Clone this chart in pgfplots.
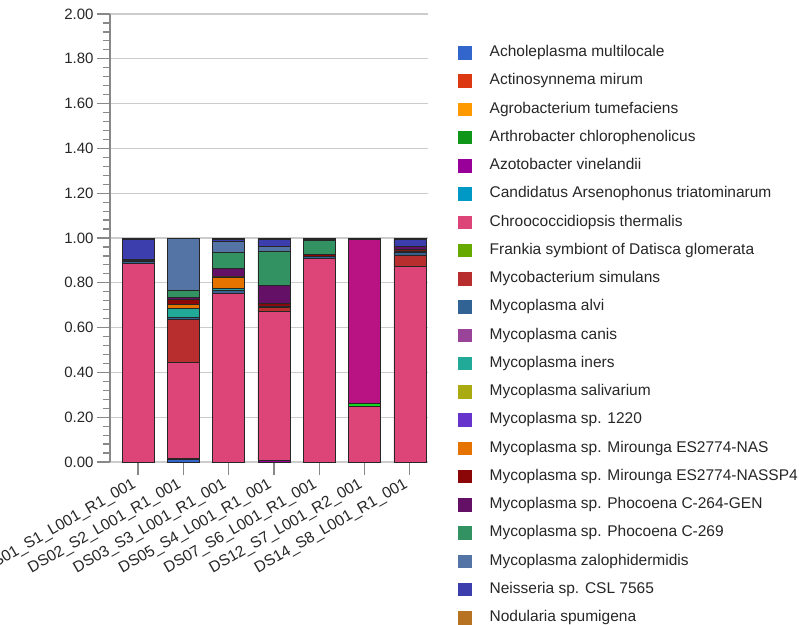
\documentclass[border=0pt]{standalone}
\usepackage{pgfplots}
\usepackage{pgfplotstable}
\pgfplotsset{compat=1.18}
\usepackage{fontspec}
\setmainfont{Liberation Sans}
\definecolor{c1}{HTML}{3366CC}
\definecolor{c2}{HTML}{DC3912}
\definecolor{c3}{HTML}{FF9900}
\definecolor{c4}{HTML}{109618}
\definecolor{c5}{HTML}{990099}
\definecolor{c6}{HTML}{0099C6}
\definecolor{c7}{HTML}{DD4477}
\definecolor{c8}{HTML}{66AA00}
\definecolor{c9}{HTML}{B82E2E}
\definecolor{c10}{HTML}{316395}
\definecolor{c11}{HTML}{994499}
\definecolor{c12}{HTML}{22AA99}
\definecolor{c13}{HTML}{AAAA11}
\definecolor{c14}{HTML}{6633CC}
\definecolor{c15}{HTML}{E67300}
\definecolor{c16}{HTML}{8B0707}
\definecolor{c17}{HTML}{651067}
\definecolor{c18}{HTML}{329262}
\definecolor{c19}{HTML}{5574A6}
\definecolor{c20}{HTML}{3B3EAC}
\definecolor{c21}{HTML}{B77322}
\definecolor{c22}{HTML}{16D620}
\definecolor{c23}{HTML}{B91383}
\definecolor{c24}{HTML}{F4359E}
\definecolor{gridc}{HTML}{CCCCCC}
\definecolor{axc}{HTML}{888888}

\pgfplotstableread{
x c1 c2 c3 c4 c5 c6 c7 c8 c9 c10 c11 c12 c13 c14 c15 c16 c17 c18 c19 c20 c21 c22 c23 c24
0 0 0 0 0 0 0 0.888 0 0 0.006 0 0 0 0 0 0.006 0.006 0 0 0.09 0 0 0 0.004
1 0.01 0 0 0.006 0 0 0.43 0 0.19 0.01 0 0.04 0 0 0.018 0.022 0.008 0.032 0.232 0 0 0 0 0.002
2 0 0 0 0 0 0 0.755 0 0 0.013 0 0.008 0 0 0.05 0.004 0.035 0.07 0.05 0.008 0 0 0 0.007
3 0 0 0 0 0.008 0 0.663 0 0.018 0.008 0 0 0 0 0 0.01 0.08 0.155 0.022 0.03 0 0 0 0.006
4 0 0 0 0 0 0 0.91 0 0 0.008 0 0 0 0 0 0.008 0 0.062 0 0.006 0 0 0 0.006
5 0 0 0 0 0 0 0.25 0 0 0 0 0 0 0 0 0 0 0 0 0 0 0.014 0.732 0.004
6 0 0 0 0 0 0 0.875 0 0.05 0.012 0 0.005 0 0 0 0.008 0.012 0 0 0.033 0 0 0 0.005
}\datatable

\begin{document}
\begin{tikzpicture}
\begin{axis}[
  at={(0pt,0pt)}, anchor=south west,
  scale only axis, width=318pt, height=448pt,
  ybar stacked, bar width=32pt,
  xmin=-0.62, xmax=6.4, ymin=0, ymax=2,
  xtick={0,1,2,3,4,5,6},
  xticklabels={DS01\_S1\_L001\_R1\_001,DS02\_S2\_L001\_R1\_001,DS03\_S3\_L001\_R1\_001,DS05\_S4\_L001\_R1\_001,DS07\_S6\_L001\_R1\_001,DS12\_S7\_L001\_R2\_001,DS14\_S8\_L001\_R1\_001},
  ytick={0,0.2,0.4,0.6,0.8,1.0,1.2,1.4,1.6,1.8,2.0},
  yticklabel style={/pgf/number format/.cd, fixed, fixed zerofill, precision=2},
  /pgf/number format/assume math mode=true,
  minor y tick num=4,
  axis y line*=left, axis x line*=bottom,
  ymajorgrids, grid style={gridc, line width=1.2pt},
  tick align=outside, major tick length=13pt, minor tick length=7pt,
  every tick/.style={axc, line width=1.2pt},
  y axis line style={axc, line width=1.5pt, -},
  x axis line style={gridc, line width=1.2pt, -},
  ticklabel style={font=\fontsize{15}{18}\selectfont, text=black!85},
  xticklabel style={font=\fontsize{15.6}{18}\selectfont, rotate=30, anchor=north east, inner sep=1pt, xshift=-6pt, yshift=2.6pt},
  every axis plot/.append style={draw=black!85, line width=0.6pt,
    /pgfplots/legend image code/.code={\path[##1,draw=none] (0pt,-6.75pt) rectangle (13.5pt,6.75pt);}},
  legend style={at={(1.0943,0.930)}, anchor=north west, draw=none, fill=none, inner sep=0pt,
    font=\fontsize{15.5}{18}\selectfont, text=black!85, row sep=13.75pt, column sep=18pt,
    nodes={inner sep=0pt, text height=11pt, text depth=3.5pt}},
  legend cell align=left,
]
\addplot[fill=c1] table[x=x,y=c1]{\datatable};
\addplot[fill=c2] table[x=x,y=c2]{\datatable};
\addplot[fill=c3] table[x=x,y=c3]{\datatable};
\addplot[fill=c4] table[x=x,y=c4]{\datatable};
\addplot[fill=c5] table[x=x,y=c5]{\datatable};
\addplot[fill=c6] table[x=x,y=c6]{\datatable};
\addplot[fill=c7] table[x=x,y=c7]{\datatable};
\addplot[fill=c8] table[x=x,y=c8]{\datatable};
\addplot[fill=c9] table[x=x,y=c9]{\datatable};
\addplot[fill=c10] table[x=x,y=c10]{\datatable};
\addplot[fill=c11] table[x=x,y=c11]{\datatable};
\addplot[fill=c12] table[x=x,y=c12]{\datatable};
\addplot[fill=c13] table[x=x,y=c13]{\datatable};
\addplot[fill=c14] table[x=x,y=c14]{\datatable};
\addplot[fill=c15] table[x=x,y=c15]{\datatable};
\addplot[fill=c16] table[x=x,y=c16]{\datatable};
\addplot[fill=c17] table[x=x,y=c17]{\datatable};
\addplot[fill=c18] table[x=x,y=c18]{\datatable};
\addplot[fill=c19] table[x=x,y=c19]{\datatable};
\addplot[fill=c20] table[x=x,y=c20]{\datatable};
\addplot[fill=c21] table[x=x,y=c21]{\datatable};
\addplot[fill=c22, forget plot] table[x=x,y=c22]{\datatable};
\addplot[fill=c23, forget plot] table[x=x,y=c23]{\datatable};
\addplot[fill=c24, forget plot] table[x=x,y=c24]{\datatable};
\legend{Acholeplasma multilocale,Actinosynnema mirum,Agrobacterium tumefaciens,Arthrobacter chlorophenolicus,Azotobacter vinelandii,Candidatus Arsenophonus triatominarum,Chroococcidiopsis thermalis,Frankia symbiont of Datisca glomerata,Mycobacterium simulans,Mycoplasma alvi,Mycoplasma canis,Mycoplasma iners,Mycoplasma salivarium,Mycoplasma sp. 1220,Mycoplasma sp. Mirounga ES2774-NAS,Mycoplasma sp. Mirounga ES2774-NASSP4,Mycoplasma sp. Phocoena C-264-GEN,Mycoplasma sp. Phocoena C-269,Mycoplasma zalophidermidis,Neisseria sp. CSL 7565,Nodularia spumigena}
\end{axis}
\pgfresetboundingbox
\path[use as bounding box] (-110pt,-162pt) rectangle (689pt,462pt);
\end{tikzpicture}
\end{document}
